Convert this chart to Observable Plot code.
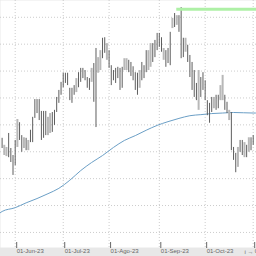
<!DOCTYPE html>
<html><head><meta charset="utf-8">
<script src="https://cdn.jsdelivr.net/npm/d3@7"></script>
<script src="https://cdn.jsdelivr.net/npm/@observablehq/plot@0.6"></script>
<style>html,body{margin:0;padding:0;overflow:hidden;background:#fff}</style>
</head><body><div id="chart"></div>
<script>
// trading-day index of first bar (0 = 01-Jun-23)
const firstIdx = -6;
const highs = [
  6.75,6.62,6.58,6.84,6.56,6.43,6.71,7.10,7.04,6.80,
  6.76,6.75,6.71,6.90,7.14,7.47,7.47,7.47,7.25,7.25,
  7.25,7.14,7.21,7.23,7.27,7.51,7.64,7.79,7.96,7.96,
  7.96,7.68,7.68,7.73,7.86,7.97,8.05,8.05,8.01,7.88,
  7.86,8.05,8.14,8.42,8.25,8.38,8.61,8.62,8.51,8.38,
  8.10,8.01,8.05,8.07,8.05,8.07,8.23,8.23,8.20,8.16,
  8.08,7.97,7.96,8.01,8.16,8.10,8.38,8.38,8.51,8.51,
  8.57,8.70,8.70,8.62,8.42,8.38,8.42,8.72,8.98,9.07,
  9.03,9.03,9.18,8.61,8.61,8.48,8.29,8.16,8.01,7.77,
  8.01,7.88,7.97,7.82,7.45,7.40,7.51,7.51,7.55,7.55,
  7.73,7.92,7.55,7.42,7.27,7.23,6.58,6.47,6.58,6.71,
  6.71,6.67,6.62,6.76,6.76,6.80
];
const lows = [
  6.56,6.43,6.41,6.39,6.30,6.06,6.24,6.58,6.71,6.49,
  6.56,6.52,6.52,6.67,6.67,7.12,7.21,7.08,6.71,6.75,
  6.80,6.80,6.84,6.86,6.99,7.23,7.40,7.55,7.69,7.77,
  7.73,7.45,7.40,7.55,7.60,7.69,7.79,7.86,7.82,7.68,
  7.64,7.79,7.42,6.95,7.96,8.01,8.23,8.33,8.20,8.05,
  7.73,7.82,7.77,7.86,7.64,7.68,8.01,8.01,7.97,7.90,
  7.82,7.64,7.55,7.68,7.82,7.86,7.97,8.01,8.07,8.16,
  8.25,8.38,8.44,8.35,8.20,8.07,8.14,8.10,8.79,8.81,
  8.85,8.72,8.23,8.25,8.35,8.16,7.88,7.64,7.51,7.45,
  7.27,7.51,7.64,7.45,7.17,7.03,7.23,7.30,7.27,7.30,
  7.45,7.45,7.27,7.21,7.08,6.52,6.34,6.11,6.21,6.49,
  6.43,6.39,6.39,6.49,6.52,6.62
];
const upBars = [-5,-4,1,4,6,15,16,28,35,38,39,42,50,51,57,61,62,68,72,74,78,84,91,94,95,98,102,105,107];

// moving average (read at sample points)
const maIdx = [-7,-6,0,5,10,15,20,25,30,35,40,45,50,55,60,65,70,75,80,85,90,95,100,109,111];
const maVal = [5.36,5.39,5.46,5.55,5.63,5.72,5.82,5.97,6.15,6.30,6.43,6.58,6.71,6.80,6.90,6.99,7.06,7.12,7.17,7.19,7.21,7.22,7.23,7.22,7.22];

// green resistance level
const greenLevel = 9.15;
const greenFrom = 74;
const greenTo = 111;

// axis ticks
const tickIdx = [0,22,43,66,87,109];
const tickLabels = ["01-Jun-23","01-Jul-23","01-Ago-23","01-Sep-23","01-Oct-23","01-Nov-23"];
const gridLevels = [5.0,5.5,6.0,6.5,7.0,7.5,8.0,8.5,9.0];

const bars = highs.map((h,k)=>({i:firstIdx+k, hi:h, lo:lows[k], up:upBars.includes(firstIdx+k)}));
const ma = maIdx.map((i,k)=>({i, v:maVal[k]}));
const labelOf = new Map(tickIdx.map((d,k)=>[d,tickLabels[k]]));

const chart = Plot.plot({
  width:256, height:256,
  marginTop:0, marginLeft:0, marginRight:0, marginBottom:9,
  style:{background:"#e8e8e8", fontFamily:"'Liberation Sans', Arial, sans-serif", overflow:"hidden"},
  x:{type:"linear", domain:[-6.73,110.51], axis:null},
  y:{domain:[4.72,9.312], axis:null},
  marks:[
    Plot.frame({fill:"white", stroke:"none"}),
    Plot.gridY(gridLevels, {stroke:"#cccccc", strokeOpacity:1, strokeDasharray:"1,2"}),
    Plot.gridX(tickIdx, {stroke:"#cccccc", strokeOpacity:1, strokeDasharray:"1,2"}),
    Plot.line(ma, {x:"i", y:"v", stroke:"#6b9fc6", strokeWidth:1, curve:"monotone-x", clip:true}),
    Plot.ruleX(bars.filter(d=>d.up), {x:"i", y1:"lo", y2:"hi", stroke:"#b8b8b8", strokeWidth:2}),
    Plot.ruleX(bars.filter(d=>!d.up), {x:"i", y1:"lo", y2:"hi", stroke:"#5e5e5e", strokeWidth:1}),
    Plot.ruleY([greenLevel], {x1:greenFrom, x2:greenTo, stroke:"#aef0a6", strokeWidth:3, clip:true}),
    Plot.axisX(tickIdx, {tickFormat:d=>labelOf.get(d), tickSize:6, tickPadding:0, textAnchor:"start", dx:1.5, dy:-5, fontSize:6, color:"#666"})
  ]
});
document.getElementById("chart").appendChild(chart);
</script>
</body></html>
